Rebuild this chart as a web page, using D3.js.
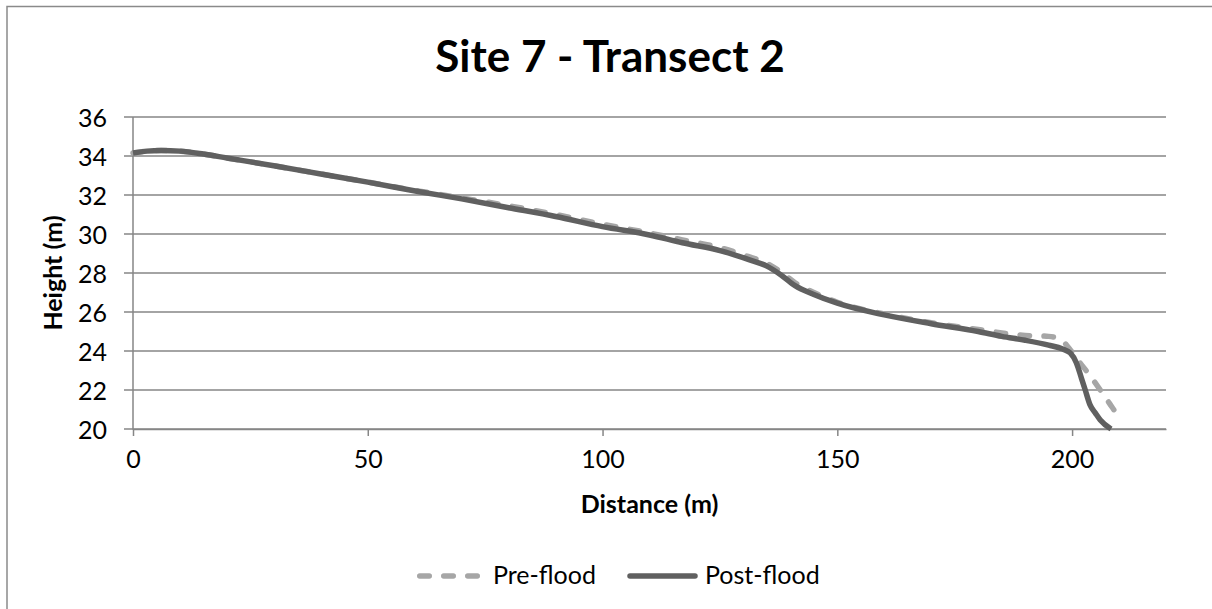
<!DOCTYPE html>
<html><head><meta charset="utf-8">
<script src="https://cdn.jsdelivr.net/npm/d3@7"></script>
<style>body{margin:0;background:#fff;font-family:Lato,"Open Sans",sans-serif;}</style>
</head><body>
<svg id="c" width="1212" height="609"></svg>
<script>
const title = "Site 7 - Transect 2";
const xTicks = [0, 50, 100, 150, 200];
const yTicks = [20, 22, 24, 26, 28, 30, 32, 34, 36];
const seriesNames = ["Pre-flood", "Post-flood"];
const preX = [0, 3, 6, 10, 15, 20, 30, 40, 50, 61, 70, 80, 90, 100, 110, 117, 125, 131, 135, 138, 141, 145, 150, 160, 170, 180, 190, 195, 197.5, 199.8, 201.5, 203.4, 206, 208, 209.4, 210.5];
const preY = [34.15, 34.25, 34.28, 34.25, 34.1, 33.9, 33.5, 33.08, 32.66, 32.2, 31.85, 31.45, 31.0, 30.5, 30.05, 29.7, 29.3, 28.85, 28.5, 28.05, 27.5, 27.0, 26.5, 25.9, 25.45, 25.1, 24.8, 24.75, 24.6, 24.0, 23.45, 22.87, 22.0, 21.3, 20.8, 20.35];
const postX = [0, 3, 6, 10, 15, 20, 30, 40, 50, 61, 70, 80, 90, 100, 110, 117, 125, 131, 135, 138, 141, 145, 150, 160, 170, 180, 185, 190, 195, 198, 199.6, 200.9, 202, 202.8, 203.8, 205, 206, 208.3];
const postY = [34.15, 34.25, 34.28, 34.25, 34.1, 33.9, 33.5, 33.08, 32.66, 32.17, 31.8, 31.35, 30.9, 30.38, 29.95, 29.55, 29.15, 28.7, 28.35, 27.9, 27.35, 26.9, 26.45, 25.85, 25.4, 25.0, 24.75, 24.55, 24.3, 24.1, 23.9, 23.4, 22.6, 22.0, 21.25, 20.8, 20.46, 20.0];

const FONT = "Lato";
const svg = d3.select("#c");
const L = 133, R = 1166, T = 117, B = 429;
const x = d3.scaleLinear().domain([0, 220]).range([L, R]);
const y = d3.scaleLinear().domain([20, 36]).range([B, T]);
const axisCol = "#868686";

// outer frame
svg.append("rect").attr("x", 7).attr("y", 6.5).attr("width", 1212).attr("height", 1200)
  .attr("fill", "none").attr("stroke", "#8a8a8a").attr("stroke-width", 1.5);

// gridlines
svg.append("g").selectAll("line").data(yTicks).join("line")
  .attr("x1", L - 9).attr("x2", R).attr("y1", d => y(d)).attr("y2", d => y(d))
  .attr("stroke", axisCol).attr("stroke-width", 1.5);

// y axis line
svg.append("line").attr("x1", L).attr("x2", L).attr("y1", T).attr("y2", B + 0.5)
  .attr("stroke", axisCol).attr("stroke-width", 1.5);

// x axis
const xAxis = d3.axisBottom(x).tickValues(xTicks).tickSize(7).tickSizeOuter(0).tickPadding(14);
const gx = svg.append("g").attr("transform", `translate(0,${B})`).call(xAxis);
gx.select(".domain").attr("stroke", axisCol).attr("stroke-width", 1.5);
gx.selectAll(".tick line").attr("stroke", axisCol).attr("stroke-width", 1.5);
gx.selectAll("text").attr("font-size", 25).attr("fill", "#000").attr("font-family", FONT);

// y tick labels
const yAxis = d3.axisLeft(y).tickValues(yTicks).tickSize(0).tickPadding(26);
const gy = svg.append("g").attr("transform", `translate(${L},0)`).call(yAxis);
gy.select(".domain").remove();
gy.selectAll("text").attr("font-size", 25).attr("fill", "#000").attr("font-family", FONT).attr("dy", "0.36em");

// lines
const line = d3.line().x(d => x(d[0])).y(d => y(d[1])).curve(d3.curveMonotoneX);
const pre = preX.map((v, i) => [v, preY[i]]);
const post = postX.map((v, i) => [v, postY[i]]);
svg.append("path").attr("d", line(pre)).attr("fill", "none").attr("stroke", "#a6a6a6")
  .attr("stroke-width", 5.5).attr("stroke-dasharray", "9.5,14.5").attr("stroke-linecap", "round");
svg.append("path").attr("d", line(post)).attr("fill", "none").attr("stroke", "#606060")
  .attr("stroke-width", 5.5).attr("stroke-linecap", "butt");

// titles
svg.append("text").attr("x", 610).attr("y", 72).attr("text-anchor", "middle")
  .attr("font-size", 44).attr("font-weight", "bold").attr("font-family", FONT).text(title);
svg.append("text").attr("x", (L + R) / 2).attr("y", 513).attr("text-anchor", "middle")
  .attr("font-size", 25).attr("font-weight", "bold").attr("font-family", FONT).text("Distance (m)");
svg.append("text").attr("transform", `translate(62,${(T + B) / 2}) rotate(-90)`).attr("text-anchor", "middle")
  .attr("font-size", 25).attr("font-weight", "bold").attr("font-family", FONT).text("Height (m)");

// legend
const lg = svg.append("g");
lg.append("line").attr("x1", 419.75).attr("x2", 477.5).attr("y1", 576).attr("y2", 576)
  .attr("stroke", "#a6a6a6").attr("stroke-width", 5.5).attr("stroke-dasharray", "9.5,14.5").attr("stroke-linecap", "round");
lg.append("text").attr("x", 493).attr("y", 584).attr("font-size", 25).attr("font-family", FONT).text(seriesNames[0]);
lg.append("line").attr("x1", 630).attr("x2", 695).attr("y1", 576).attr("y2", 576)
  .attr("stroke", "#606060").attr("stroke-width", 5.5).attr("stroke-linecap", "round");
lg.append("text").attr("x", 705).attr("y", 584).attr("font-size", 25).attr("font-family", FONT).text(seriesNames[1]);
</script>
</body></html>
